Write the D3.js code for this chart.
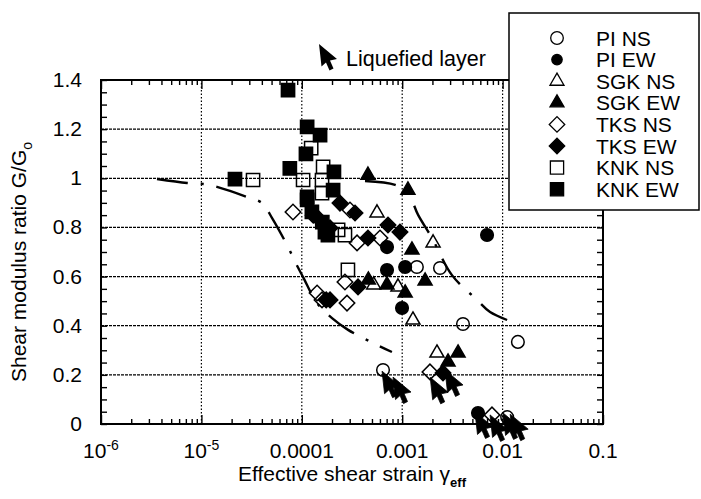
<!DOCTYPE html>
<html>
<head>
<meta charset="utf-8">
<script src="https://cdn.jsdelivr.net/npm/d3@7/dist/d3.min.js"></script>
<style>
  body { margin: 0; background: #fff; }
  text { font-family: "Liberation Sans", Arial, sans-serif; fill: #000; }
</style>
</head>
<body>
<div id="chart"></div>
<script>
// strain, G/G0
var piNS  = [[1.40e-3,0.639],[2.38e-3,0.635],[4.03e-3,0.407],[1.42e-2,0.334],[6.44e-4,0.220],[1.11e-2,0.028]];
var piEW  = [[7.0e-3,0.769],[7.06e-4,0.720],[7.06e-4,0.627],[1.07e-3,0.639],[9.96e-4,0.472],[5.69e-3,0.045]];
var sgkNS = [[5.61e-4,0.859],[2.03e-3,0.737],[5.2e-4,0.566],[9.08e-4,0.558],[1.28e-3,0.423],[2.22e-3,0.289]];
var sgkEW = [[4.56e-4,1.013],[1.14e-3,0.952],[1.25e-3,0.708],[1.69e-3,0.582],[1.07e-3,0.533],[7.06e-4,0.566],[4.6e-4,0.586],[2.86e-3,0.252],[3.60e-3,0.289]];
var tksNS = [[8.17e-5,0.863],[3.02e-4,0.871],[3.55e-4,0.737],[6.01e-4,0.757],[2.69e-4,0.578],[1.42e-4,0.533],[1.59e-4,0.505],[2.82e-4,0.492],[1.89e-3,0.212],[7.84e-3,0.037]];
var tksEW = [[2.40e-4,0.899],[3.39e-4,0.859],[7.22e-4,0.810],[9.5e-4,0.781],[4.56e-4,0.757],[1.91e-4,0.505],[3.63e-4,0.558],[2.55e-3,0.208],[1.75e-4,0.505],[1.3e-4,0.85],[1.7e-4,0.80],[1.38e-4,0.847],[1.91e-4,0.798]];
var knkNS = [[3.27e-5,0.993],[1.24e-4,1.123],[1.63e-4,1.046],[1.03e-4,0.993],[1.59e-4,0.993],[1.59e-4,0.940],[2.30e-4,0.790],[2.69e-4,0.769],[2.88e-4,0.627]];
var knkEW = [[7.29e-5,1.359],[1.13e-4,1.209],[1.52e-4,1.176],[1.10e-4,1.099],[7.6e-5,1.040],[2.16e-5,0.997],[2.09e-4,1.026],[2.05e-4,0.952],[1.13e-4,0.924],[1.6e-4,0.822],[1.7e-4,0.781],[1.13e-4,0.912],[1.26e-4,0.863],[1.82e-4,0.769]];
var liquefied = [[6.3e-4,0.215],[8.1e-4,0.191],[1.9e-3,0.19],[2.67e-3,0.22],[5.31e-3,0.049],[7.5e-3,0.037],[1.01e-2,0.045],[1.19e-2,0.04]];

// dash-dot reference curves
var curveLeft  = [[3.61e-6,0.997],[7.2e-6,0.981],[1.04e-5,0.977],[1.43e-5,0.965],[2.84e-5,0.924],[4.02e-5,0.899],[5.06e-5,0.838],[7.3e-5,0.720],[8.6e-5,0.659],[1.03e-4,0.598],[1.42e-4,0.492],[2.0e-4,0.431],[2.89e-4,0.383],[5.6e-4,0.322],[7.9e-4,0.293]];
var curveRight = [[4.26e-4,0.989],[8.5e-4,0.973],[1.14e-3,0.940],[1.44e-3,0.851],[1.98e-3,0.757],[3.13e-3,0.606],[5.56e-3,0.505],[7.5e-3,0.456],[1.49e-2,0.403]];

var seriesNames = ["PI NS","PI EW","SGK NS","SGK EW","TKS NS","TKS EW","KNK NS","KNK EW"];
var seriesData = [piNS, piEW, sgkNS, sgkEW, tksNS, tksEW, knkNS, knkEW];
var seriesShape = ["circle","circle","triangle","triangle","diamond","diamond","square","square"];
var seriesFilled = [false,true,false,true,false,true,false,true];

var xTickLabels = [["10","-6"],["10","-5"],["0.0001",""],["0.001",""],["0.01",""],["0.1",""]];
var yTicks = [0,0.2,0.4,0.6,0.8,1,1.2,1.4];

var width = 701, height = 499;
var svg = d3.select("#chart").append("svg")
    .attr("width", width)
    .attr("height", height);

var x = d3.scaleLog().domain([1e-6, 0.1]).range([101, 603]);
var y = d3.scaleLinear().domain([0, 1.4]).range([424, 80]);

var decades = [1e-6,1e-5,1e-4,1e-3,1e-2,1e-1];
var minor = [];
for(var d = 0; d < decades.length - 1; d++){
	for(var k = 2; k < 10; k++) minor.push(decades[d]*k);
}
var yMinor = d3.range(0, 1.41, 0.05);

// grid
svg.append("g").selectAll("line")
	.data(yTicks.slice(1, -1))
	.enter().append("line")
	.attr("x1", x.range()[0]).attr("x2", x.range()[1])
	.attr("y1", function(d){ return y(d); })
	.attr("y2", function(d){ return y(d); })
	.style("stroke", "#000")
	.style("stroke-width", 1.3)
	.style("stroke-dasharray", "3,1");
svg.append("g").selectAll("line")
	.data(decades.slice(1, -1))
	.enter().append("line")
	.attr("y1", y.range()[0]).attr("y2", y.range()[1])
	.attr("x1", function(d){ return x(d); })
	.attr("x2", function(d){ return x(d); })
	.style("stroke", "#000")
	.style("stroke-width", 1.2)
	.style("stroke-dasharray", "1.5,2");

// axes ticks (inward)
function noLabel(){ return ""; }
svg.append("g").attr("transform", "translate(0," + y(0) + ")")
	.call(d3.axisBottom(x).tickValues(minor).tickSize(-5).tickFormat(noLabel));
svg.append("g").attr("transform", "translate(0," + y(0) + ")")
	.call(d3.axisBottom(x).tickValues(decades).tickSize(-9).tickFormat(noLabel));
svg.append("g").attr("transform", "translate(0," + y(1.4) + ")")
	.call(d3.axisTop(x).tickValues(minor).tickSize(-5).tickFormat(noLabel));
svg.append("g").attr("transform", "translate(0," + y(1.4) + ")")
	.call(d3.axisTop(x).tickValues(decades).tickSize(-9).tickFormat(noLabel));
svg.append("g").attr("transform", "translate(" + x(1e-6) + ",0)")
	.call(d3.axisLeft(y).tickValues(yMinor).tickSize(-6).tickFormat(noLabel));
svg.append("g").attr("transform", "translate(" + x(0.1) + ",0)")
	.call(d3.axisRight(y).tickValues(yMinor).tickSize(-6).tickFormat(noLabel));
svg.selectAll(".domain").remove();
svg.selectAll(".tick line").style("stroke", "#000").style("stroke-width", 1.4);

svg.append("rect")
	.attr("x", x(1e-6)).attr("y", y(1.4))
	.attr("width", x(0.1) - x(1e-6))
	.attr("height", y(0) - y(1.4))
	.style("fill", "none")
	.style("stroke", "#000")
	.style("stroke-width", 2);

// tick labels
svg.append("g").selectAll("text")
	.data(yTicks)
	.enter().append("text")
	.attr("x", x(1e-6) - 19)
	.attr("y", function(d){ return y(d) + 7; })
	.attr("text-anchor", "end")
	.style("font-size", "21px")
	.text(function(d){ return d; });

var xl = svg.append("g").selectAll("text")
	.data(decades)
	.enter().append("text")
	.attr("x", function(d){ return x(d); })
	.attr("y", y(0) + 34)
	.attr("text-anchor", "middle")
	.style("font-size", "21px");
xl.append("tspan").text(function(d, i){ return xTickLabels[i][0]; });
xl.append("tspan")
	.attr("dy", -8)
	.style("font-size", "14px")
	.text(function(d, i){ return xTickLabels[i][1]; });

// axis titles
var xt = svg.append("text")
	.attr("x", 352).attr("y", y(0) + 57)
	.attr("text-anchor", "middle")
	.style("font-size", "21px");
xt.append("tspan").text("Effective shear strain \u03b3");
xt.append("tspan").attr("dy", 6).style("font-size", "13px").style("font-weight", "bold").text("eff");

var yt = svg.append("text")
	.attr("transform", "translate(26," + 262 + ") rotate(-90)")
	.attr("text-anchor", "middle")
	.style("font-size", "21px");
yt.append("tspan").text("Shear modulus ratio G/G");
yt.append("tspan").attr("dy", 6).style("font-size", "14px").text("o");

// dash-dot curves
var line = d3.line()
	.x(function(d){ return x(d[0]); })
	.y(function(d){ return y(d[1]); })
	.curve(d3.curveCatmullRom);
[curveLeft, curveRight].forEach(function(c){
	svg.append("path")
		.datum(c)
		.attr("d", line)
		.style("fill", "none")
		.style("stroke", "#000")
		.style("stroke-width", 2.4)
		.style("stroke-dasharray", "31,13,3,13");
});

// markers
function symbolPath(shape){
	if(shape === "circle") return d3.symbol().type(d3.symbolCircle).size(125)();
	if(shape === "triangle") return d3.symbol().type(d3.symbolTriangle).size(85)();
	if(shape === "diamond") return d3.symbol().type(d3.symbolSquare).size(120)();
	return d3.symbol().type(d3.symbolSquare).size(175)();
}
function markerTransform(shape, px, py){
	return "translate(" + px + "," + py + ")" + (shape === "diamond" ? " rotate(45)" : "");
}

seriesData.forEach(function(data, i){
	svg.append("g").selectAll("path")
		.data(data)
		.enter().append("path")
		.attr("d", symbolPath(seriesShape[i]))
		.attr("transform", function(d){ return markerTransform(seriesShape[i], x(d[0]), y(d[1])); })
		.style("fill", seriesFilled[i] ? "#000" : "none")
		.style("stroke", "#000")
		.style("stroke-width", 1.5);
});

// liquefied layer arrows: tip at the point, body down-right
var cursor = "M0,0 L18,15 L11,16.5 L14.5,24.5 L10.5,26.5 L7,18.5 L2.5,22.5 Z";
svg.append("g").selectAll("path")
	.data(liquefied)
	.enter().append("path")
	.attr("d", cursor)
	.attr("transform", function(d){ return "translate(" + x(d[0]) + "," + y(d[1]) + ")"; })
	.style("fill", "#000")
	.style("stroke", "#000")
	.style("stroke-width", 0.8);

svg.append("path")
	.attr("d", cursor)
	.attr("transform", "translate(319,44) scale(1.0)")
	.style("fill", "#000");
svg.append("text")
	.attr("x", 346).attr("y", 66)
	.style("font-size", "21.5px")
	.text("Liquefied layer");

// legend
var legend = svg.append("g");
legend.append("rect")
	.attr("x", 509).attr("y", 13)
	.attr("width", 190).attr("height", 197)
	.style("fill", "#fff")
	.style("stroke", "#000")
	.style("stroke-width", 1.5);
var rows = legend.selectAll("g.row")
	.data(seriesNames)
	.enter().append("g")
	.attr("class", "row")
	.attr("transform", function(d, i){ return "translate(0," + (38 + i*21.6) + ")"; });
rows.append("path")
	.attr("d", function(d, i){ return seriesShape[i] === "circle" && seriesFilled[i] ? d3.symbol().type(d3.symbolCircle).size(85)() : symbolPath(seriesShape[i]); })
	.attr("transform", function(d, i){ return markerTransform(seriesShape[i], 557, 0); })
	.style("fill", function(d, i){ return seriesFilled[i] ? "#000" : "none"; })
	.style("stroke", "#000")
	.style("stroke-width", 1.3);
rows.append("text")
	.attr("x", 596).attr("y", 7.5)
	.style("font-size", "21px")
	.text(function(d){ return d; });
</script>
</body>
</html>
